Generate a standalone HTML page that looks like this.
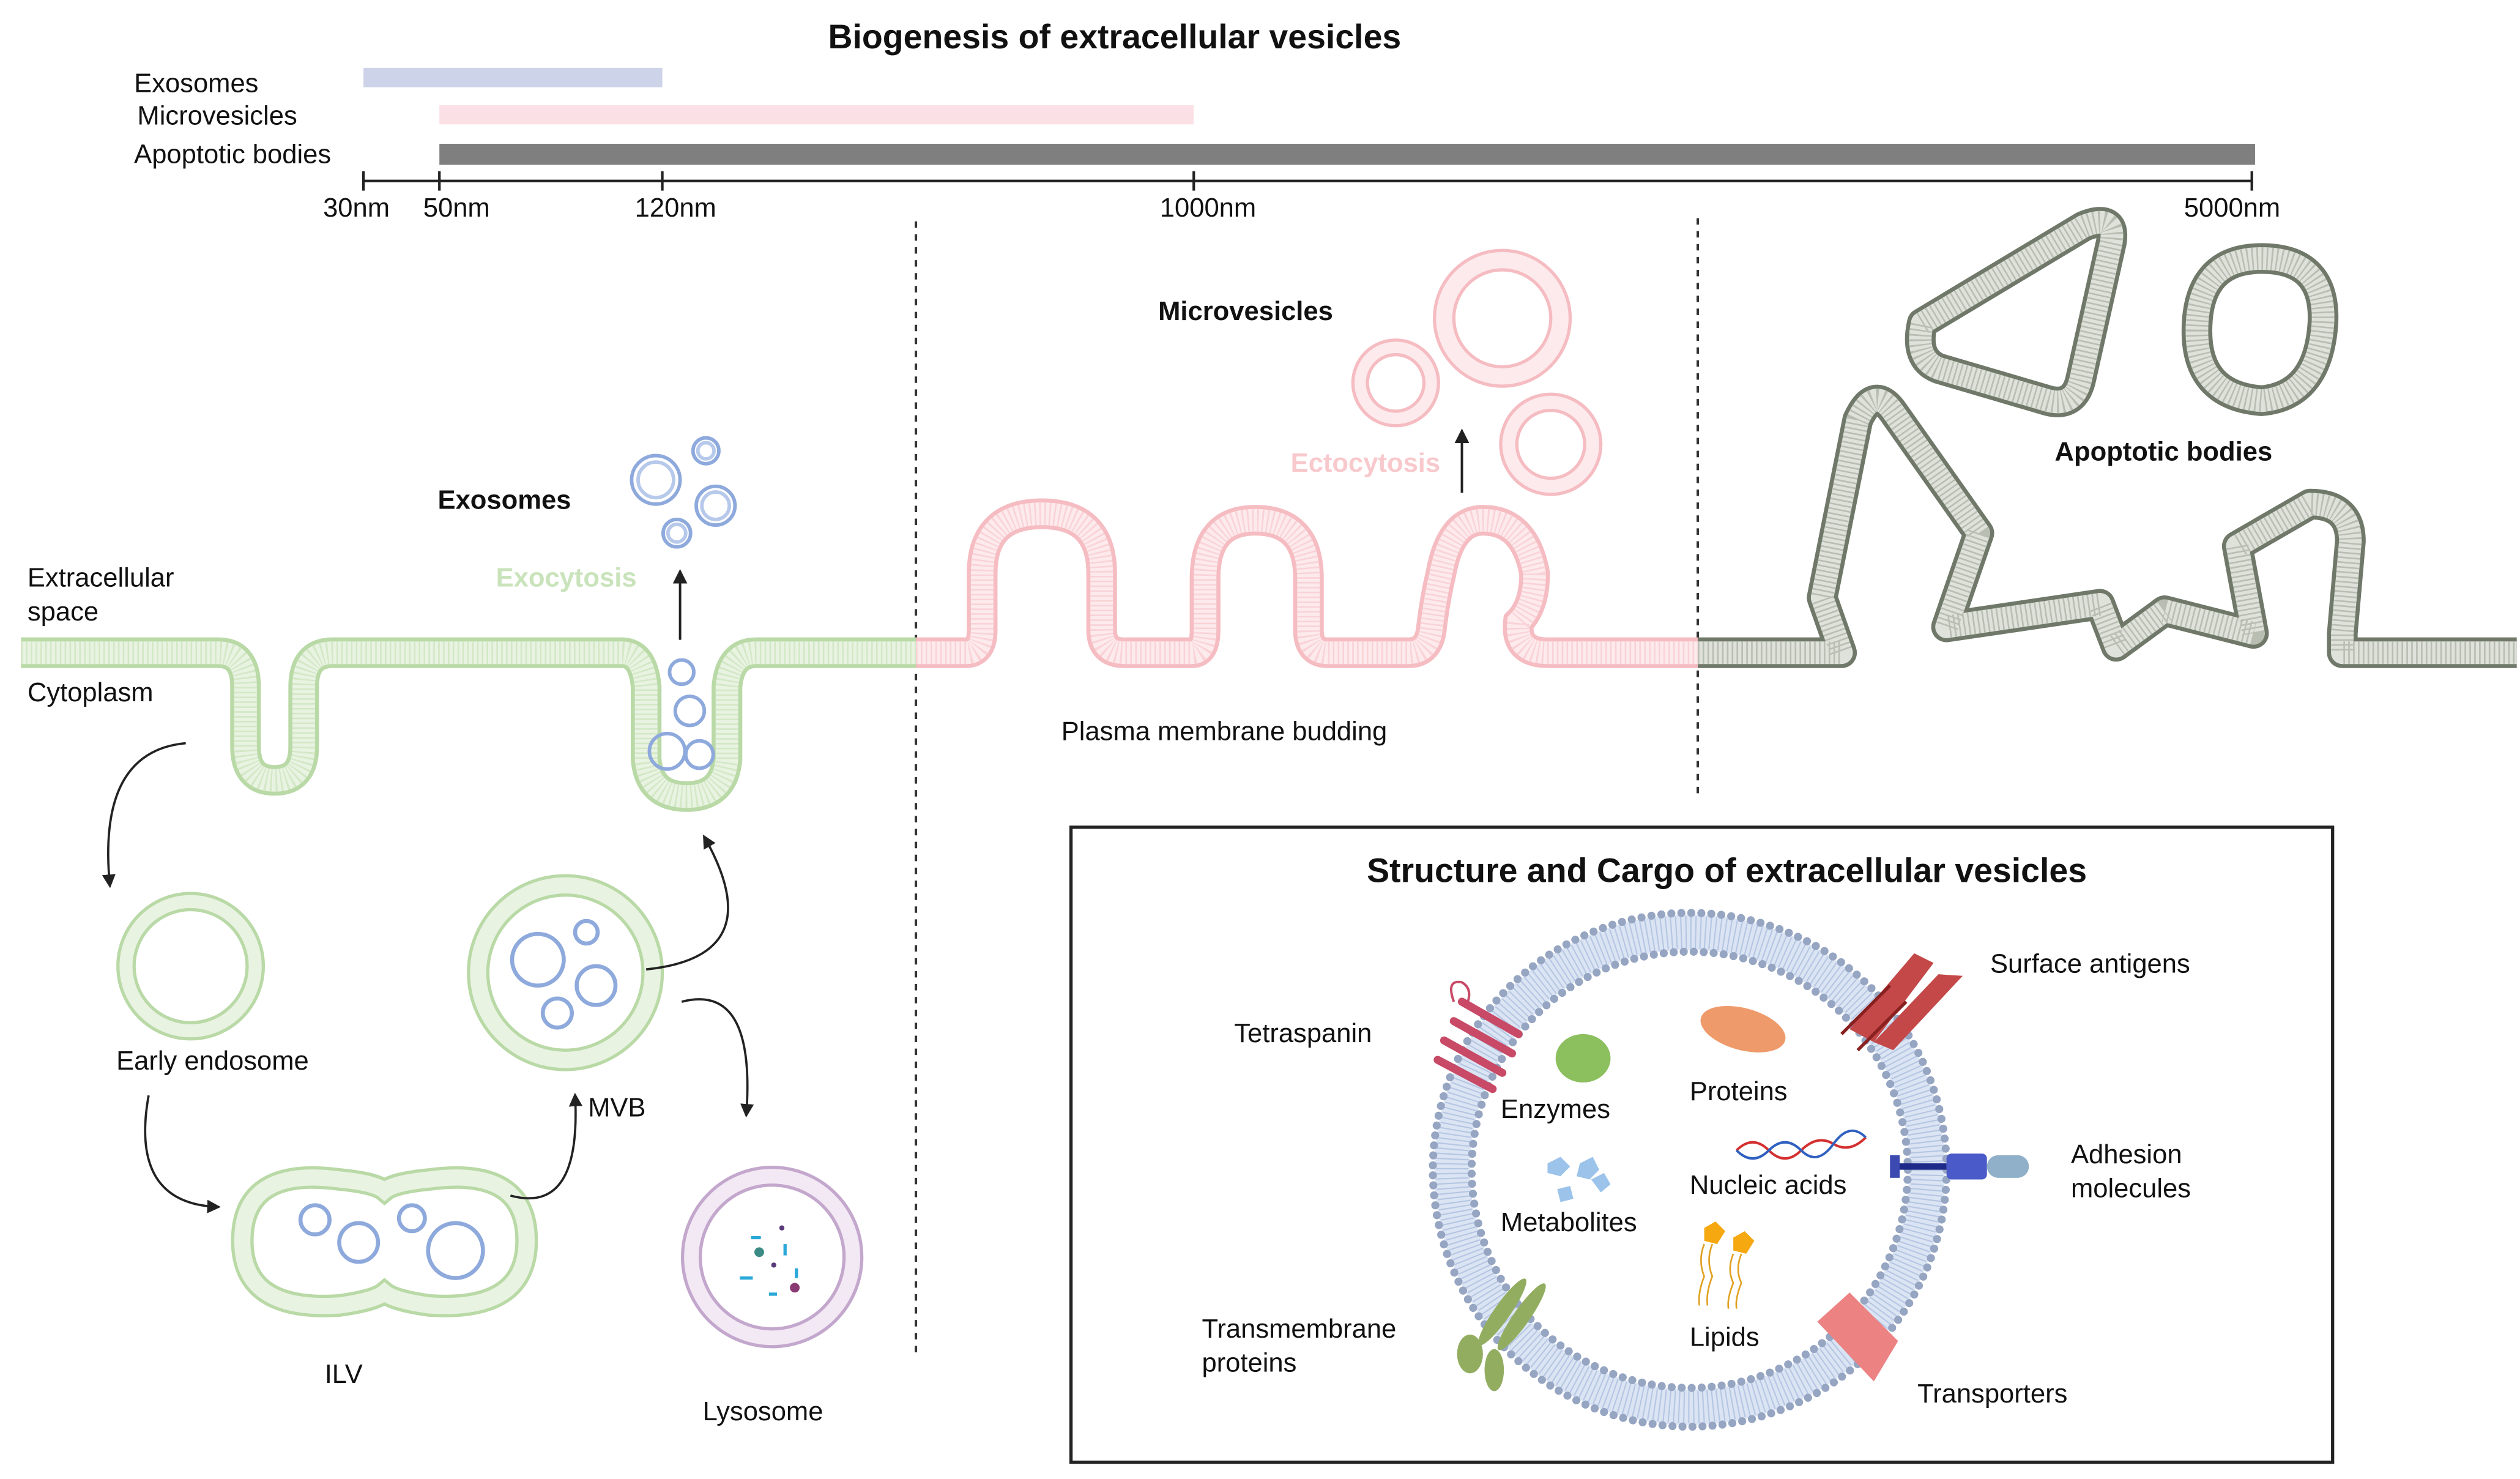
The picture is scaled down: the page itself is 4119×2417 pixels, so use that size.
<!DOCTYPE html>
<html><head><meta charset="utf-8"><style>
html,body{margin:0;padding:0;background:#fff;}
svg{display:block;}
text{font-family:"Liberation Sans",sans-serif;fill:#111;}
.b{font-weight:bold;}
</style></head><body>
<svg width="4119" height="2417" viewBox="0 0 1560 915.4" xmlns="http://www.w3.org/2000/svg">
<defs>
<marker id="ah" viewBox="0 0 10 10" refX="8" refY="5" markerWidth="6" markerHeight="6" orient="auto-start-reverse"><path d="M0,0 L10,5 L0,10 z" fill="#222"/></marker>
<g id="gmem"></g>
</defs>
<rect width="1560" height="915.4" fill="#fff"/>

<!-- Title & timeline -->
<text x="690" y="30" font-size="21" class="b" text-anchor="middle">Biogenesis of extracellular vesicles</text>
<text x="83" y="57" font-size="16.5">Exosomes</text>
<text x="85" y="77" font-size="16.5">Microvesicles</text>
<text x="83" y="101" font-size="16.5">Apoptotic bodies</text>
<rect x="225" y="42" width="185" height="12" fill="#cdd3e8"/>
<rect x="272" y="65" width="467" height="12" fill="#fbe1e6"/>
<rect x="272" y="89" width="1124" height="13" fill="#7f7f7f"/>
<g stroke="#222" stroke-width="1.6">
<line x1="225" y1="112" x2="1394" y2="112"/>
<line x1="225" y1="106" x2="225" y2="118"/><line x1="272" y1="106" x2="272" y2="118"/>
<line x1="410" y1="106" x2="410" y2="118"/><line x1="739" y1="106" x2="739" y2="118"/>
<line x1="1394" y1="106" x2="1394" y2="118"/>
</g>
<g font-size="16.5">
<text x="200" y="134">30nm</text><text x="262" y="134">50nm</text><text x="393" y="134">120nm</text>
<text x="718" y="134">1000nm</text><text x="1352" y="134">5000nm</text>
</g>

<!-- dashed lines -->
<line x1="567" y1="137" x2="567" y2="838" stroke="#333" stroke-width="1.5" stroke-dasharray="4,4"/>
<line x1="1051" y1="135" x2="1051" y2="492" stroke="#333" stroke-width="1.5" stroke-dasharray="4,4"/>

<!-- Green membrane -->
<g fill="none">
<path id="gp" d="M13,404 H135 Q152,404 152,425 V462 Q152,483 170,483 Q188,483 188,462 V425 Q188,404 206,404 H385 Q398,404 400,425 V470 Q402,493 425,493 Q448,493 450,470 V425 Q452,404 468,404 H567" stroke="#b9d9a6" stroke-width="19"/>
<path d="M13,404 H135 Q152,404 152,425 V462 Q152,483 170,483 Q188,483 188,462 V425 Q188,404 206,404 H385 Q398,404 400,425 V470 Q402,493 425,493 Q448,493 450,470 V425 Q452,404 468,404 H567" stroke="#e9f3e2" stroke-width="14"/>
<path d="M13,404 H135 Q152,404 152,425 V462 Q152,483 170,483 Q188,483 188,462 V425 Q188,404 206,404 H385 Q398,404 400,425 V470 Q402,493 425,493 Q448,493 450,470 V425 Q452,404 468,404 H567" stroke="#d3e8c6" stroke-width="14" stroke-dasharray="1 2"/>
</g>
<!-- Pink membrane -->
<g fill="none">
<path d="M567,404 H598 Q608,404 608,390 V355 Q608,318 645,318 Q682,318 682,355 V390 Q682,404 696,404 H738 Q746,404 746,390 V358 Q746,322 777,322 Q810,322 810,358 V390 Q810,404 822,404 H872 Q884,404 886,390 Q888,372 892,355 Q898,322 918,322 Q944,322 950,355 Q950,375 940,385 Q938,404 958,404 H1051" stroke="#f5bcc2" stroke-width="19"/>
<path d="M567,404 H598 Q608,404 608,390 V355 Q608,318 645,318 Q682,318 682,355 V390 Q682,404 696,404 H738 Q746,404 746,390 V358 Q746,322 777,322 Q810,322 810,358 V390 Q810,404 822,404 H872 Q884,404 886,390 Q888,372 892,355 Q898,322 918,322 Q944,322 950,355 Q950,375 940,385 Q938,404 958,404 H1051" stroke="#fdeaec" stroke-width="14"/>
<path d="M567,404 H598 Q608,404 608,390 V355 Q608,318 645,318 Q682,318 682,355 V390 Q682,404 696,404 H738 Q746,404 746,390 V358 Q746,322 777,322 Q810,322 810,358 V390 Q810,404 822,404 H872 Q884,404 886,390 Q888,372 892,355 Q898,322 918,322 Q944,322 950,355 Q950,375 940,385 Q938,404 958,404 H1051" stroke="#f9d3d7" stroke-width="14" stroke-dasharray="1 2"/>
</g>
<!-- Gray membrane -->
<g fill="none" stroke-linejoin="round">
<path d="M1051,404 H1140 L1128,370 L1150,260 Q1160,238 1172,255 L1225,330 L1205,388 L1300,374 L1310,400 L1340,378 L1395,392 L1385,338 L1430,312 Q1455,312 1455,335 L1450,392 V404 H1558" stroke="#6f7869" stroke-width="19"/>
<path d="M1051,404 H1140 L1128,370 L1150,260 Q1160,238 1172,255 L1225,330 L1205,388 L1300,374 L1310,400 L1340,378 L1395,392 L1385,338 L1430,312 Q1455,312 1455,335 L1450,392 V404 H1558" stroke="#dfe2db" stroke-width="14"/>
<path d="M1051,404 H1140 L1128,370 L1150,260 Q1160,238 1172,255 L1225,330 L1205,388 L1300,374 L1310,400 L1340,378 L1395,392 L1385,338 L1430,312 Q1455,312 1455,335 L1450,392 V404 H1558" stroke="#b9beb3" stroke-width="14" stroke-dasharray="1 2"/>
<path d="M1190,200 L1290,140 Q1310,132 1307,150 L1288,235 Q1284,252 1268,248 L1200,228 Q1185,222 1190,200 Z" stroke="#6f7869" stroke-width="19"/>
<path d="M1190,200 L1290,140 Q1310,132 1307,150 L1288,235 Q1284,252 1268,248 L1200,228 Q1185,222 1190,200 Z" stroke="#dfe2db" stroke-width="14"/>
<path d="M1190,200 L1290,140 Q1310,132 1307,150 L1288,235 Q1284,252 1268,248 L1200,228 Q1185,222 1190,200 Z" stroke="#b9beb3" stroke-width="14" stroke-dasharray="1 2"/>
<path d="M1360,205 Q1360,160 1400,160 Q1440,160 1438,200 Q1435,245 1400,248 Q1360,245 1360,205 Z" stroke="#6f7869" stroke-width="19"/>
<path d="M1360,205 Q1360,160 1400,160 Q1440,160 1438,200 Q1435,245 1400,248 Q1360,245 1360,205 Z" stroke="#dfe2db" stroke-width="14"/>
<path d="M1360,205 Q1360,160 1400,160 Q1440,160 1438,200 Q1435,245 1400,248 Q1360,245 1360,205 Z" stroke="#b9beb3" stroke-width="14" stroke-dasharray="1 2"/>
</g>

<!-- Pink vesicles -->
<g fill="none">
<circle cx="930" cy="197" r="36" stroke="#f5bcc2" stroke-width="14"/><circle cx="930" cy="197" r="36" stroke="#fdeaec" stroke-width="10"/>
<circle cx="864" cy="237" r="22" stroke="#f5bcc2" stroke-width="11"/><circle cx="864" cy="237" r="22" stroke="#fdeaec" stroke-width="7"/>
<circle cx="960" cy="275" r="26" stroke="#f5bcc2" stroke-width="12"/><circle cx="960" cy="275" r="26" stroke="#fdeaec" stroke-width="8"/>
</g>
<!-- Exosome blue circles -->
<g fill="none" stroke="#8ea9dc" stroke-width="2.2">
<circle cx="406" cy="297" r="15"/><circle cx="406" cy="297" r="11" stroke="#b7c9ea"/>
<circle cx="437" cy="279" r="8"/><circle cx="437" cy="279" r="5" stroke="#b7c9ea"/>
<circle cx="443" cy="313" r="12"/><circle cx="443" cy="313" r="8.5" stroke="#b7c9ea"/>
<circle cx="419" cy="330" r="8.5"/><circle cx="419" cy="330" r="5.5" stroke="#b7c9ea"/>
<circle cx="422" cy="416" r="7.5"/><circle cx="427" cy="440" r="9"/><circle cx="413" cy="465" r="11"/><circle cx="433" cy="467" r="8.5"/>
</g>

<!-- Labels top -->
<text x="271" y="315" font-size="16.5" class="b">Exosomes</text>
<text x="307" y="363" font-size="16.5" class="b" style="fill:#c9e3bb">Exocytosis</text>
<text x="717" y="198" font-size="16.5" class="b">Microvesicles</text>
<text x="799" y="292" font-size="16.5" class="b" style="fill:#f8c9cc">Ectocytosis</text>
<text x="1272" y="285" font-size="16.5" class="b">Apoptotic bodies</text>
<text x="17" y="363" font-size="16.5">Extracellular</text>
<text x="17" y="384" font-size="16.5">space</text>
<text x="17" y="434" font-size="16.5">Cytoplasm</text>
<text x="657" y="458" font-size="16.5">Plasma membrane budding</text>
<line x1="421" y1="396" x2="421" y2="354" stroke="#222" stroke-width="1.5" marker-end="url(#ah)"/>
<line x1="905" y1="305" x2="905" y2="267" stroke="#222" stroke-width="1.5" marker-end="url(#ah)"/>

<!-- Endosome pathway -->
<g fill="none">
<circle cx="118" cy="598" r="40" stroke="#b9d9a6" stroke-width="12"/><circle cx="118" cy="598" r="40" stroke="#e9f3e2" stroke-width="8"/>
<circle cx="350" cy="602" r="54" stroke="#b9d9a6" stroke-width="14"/><circle cx="350" cy="602" r="54" stroke="#e9f3e2" stroke-width="10"/>
<path d="M210,730 Q150,722 150,768 Q150,812 210,808 Q232,805 238,800 Q244,805 266,808 Q326,812 326,768 Q326,722 266,730 Q244,732 238,737 Q232,732 210,730 Z" stroke="#b9d9a6" stroke-width="14"/>
<path d="M210,730 Q150,722 150,768 Q150,812 210,808 Q232,805 238,800 Q244,805 266,808 Q326,812 326,768 Q326,722 266,730 Q244,732 238,737 Q232,732 210,730 Z" stroke="#e9f3e2" stroke-width="10"/>
<circle cx="478" cy="778" r="50" stroke="#c3a7cc" stroke-width="13"/><circle cx="478" cy="778" r="50" stroke="#f3e9f5" stroke-width="9"/>
</g>
<g fill="none" stroke="#8ea9dc" stroke-width="2.5">
<circle cx="333" cy="594" r="16"/><circle cx="369" cy="610" r="12"/><circle cx="363" cy="577" r="7"/><circle cx="345" cy="627" r="9"/>
<circle cx="195" cy="755" r="9"/><circle cx="222" cy="769" r="12"/><circle cx="255" cy="754" r="8"/><circle cx="282" cy="774" r="17"/>
</g>
<g fill="#2aa8d8">
<rect x="465" y="765" width="6" height="2"/><rect x="485" y="770" width="2" height="7"/><rect x="458" y="790" width="8" height="2"/><rect x="492" y="785" width="2" height="6"/><rect x="476" y="800" width="5" height="2"/>
</g>
<circle cx="470" cy="775" r="3" fill="#3a8a86"/><circle cx="492" cy="797" r="3" fill="#8a3a72"/><circle cx="484" cy="760" r="1.6" fill="#5a3a7a"/><circle cx="479" cy="783" r="1.6" fill="#5a3a7a"/>

<g fill="none" stroke="#222" stroke-width="1.4">
<path d="M115,460 Q60,465 68,548" marker-end="url(#ah)"/>
<path d="M92,678 Q80,745 135,747" marker-end="url(#ah)"/>
<path d="M316,740 Q360,752 356,678" marker-end="url(#ah)"/>
<path d="M400,600 Q478,592 436,518" marker-end="url(#ah)"/>
<path d="M422,620 Q468,608 462,690" marker-end="url(#ah)"/>
</g>
<text x="72" y="662" font-size="16.5">Early endosome</text>
<text x="364" y="691" font-size="16.5">MVB</text>
<text x="201" y="856" font-size="16.5">ILV</text>
<text x="435" y="879" font-size="16.5">Lysosome</text>

<!-- Structure box -->
<rect x="663" y="512" width="781" height="393" fill="none" stroke="#222" stroke-width="2"/>
<text x="1069" y="546" font-size="21" class="b" text-anchor="middle">Structure and Cargo of extracellular vesicles</text>
<g fill="none">
<circle cx="1046" cy="724" r="147" stroke="#dbe4f3" stroke-width="22"/>
<circle cx="1046" cy="724" r="147" stroke="#b5c6e3" stroke-width="20" stroke-dasharray="0.8 2.2"/>
<circle cx="1046" cy="724" r="159" stroke="#95a5c2" stroke-width="5" stroke-dasharray="0 6.2" stroke-linecap="round"/>
<circle cx="1046" cy="724" r="135" stroke="#95a5c2" stroke-width="5" stroke-dasharray="0 6.2" stroke-linecap="round"/>
</g>
<!-- icons -->
<g stroke="#c84a66" stroke-width="5" stroke-linecap="round">
<line x1="905" y1="620" x2="940" y2="640"/><line x1="900" y1="632" x2="936" y2="652"/><line x1="894" y1="644" x2="930" y2="664"/><line x1="890" y1="656" x2="924" y2="674"/>
</g>
<path d="M900,620 Q895,606 905,608 Q912,612 908,622" fill="none" stroke="#c84a66" stroke-width="1.5"/>
<path d="M1145,637 L1185,590 L1197,596 L1160,645 Z" fill="#c44848"/><path d="M1160,645 L1200,603 L1215,604 L1172,650 Z" fill="#c44848"/>
<line x1="1140" y1="640" x2="1170" y2="610" stroke="#8a2020" stroke-width="2"/><line x1="1150" y1="650" x2="1180" y2="620" stroke="#8a2020" stroke-width="2"/>
<ellipse cx="980" cy="655" rx="17" ry="15" fill="#8cbf5e"/>
<ellipse cx="1079" cy="637" rx="27" ry="13" fill="#ef9a6a" transform="rotate(15 1079 637)"/>
<path d="M1075,712 Q1085,702 1095,712 T1115,712 T1135,708 T1155,704" fill="none" stroke="#d43030" stroke-width="1.5"/>
<path d="M1075,712 Q1085,722 1095,712 T1115,712 T1135,708 T1155,704" fill="none" stroke="#3060c0" stroke-width="1.5"/>
<g fill="#9cc3ea"><polygon points="958,720 966,716 972,722 966,728 958,726"/><polygon points="978,720 986,716 990,724 984,730 976,728"/><polygon points="985,730 993,726 997,733 991,738"/><polygon points="964,736 972,734 974,742 966,744"/></g>
<line x1="1172" y1="722" x2="1205" y2="722" stroke="#1e2a8a" stroke-width="4"/>
<rect x="1170" y="715" width="6" height="14" fill="#3b49b0"/>
<rect x="1205" y="714" width="25" height="16" rx="3" fill="#4a5ac8"/>
<rect x="1230" y="715" width="26" height="14" rx="7" fill="#8fb0c8"/>
<polygon points="1055,760 1062,756 1068,762 1063,770 1055,768" fill="#f5a80f"/><polygon points="1073,766 1080,762 1086,768 1081,776 1073,774" fill="#f5a80f"/>
<g stroke="#e0a020" stroke-width="1" fill="none"><path d="M1055,770 q-4,10 0,20 q-4,10 -3,18"/><path d="M1060,770 q-4,10 0,20 q-4,10 -3,18"/><path d="M1073,776 q-4,10 0,18 q-4,10 -3,16"/><path d="M1078,776 q-4,10 0,18 q-4,10 -3,16"/></g>
<g fill="#92ad60"><ellipse cx="930" cy="812" rx="5" ry="25" transform="rotate(35 930 812)"/><ellipse cx="942" cy="815" rx="5" ry="25" transform="rotate(35 942 815)"/><ellipse cx="910" cy="838" rx="8" ry="12"/><ellipse cx="925" cy="848" rx="6" ry="13"/></g>
<path d="M1125,818 L1145,800 L1175,830 L1160,855 Z" fill="#ec8282"/>
<g font-size="16.5">
<text x="764" y="645">Tetraspanin</text>
<text x="1232" y="602">Surface antigens</text>
<text x="929" y="692">Enzymes</text>
<text x="1046" y="681">Proteins</text>
<text x="1046" y="739">Nucleic acids</text>
<text x="929" y="762">Metabolites</text>
<text x="1282" y="720">Adhesion</text>
<text x="1282" y="741">molecules</text>
<text x="1046" y="833">Lipids</text>
<text x="744" y="828">Transmembrane</text>
<text x="744" y="849">proteins</text>
<text x="1187" y="868">Transporters</text>
</g>
</svg>
</body></html>
